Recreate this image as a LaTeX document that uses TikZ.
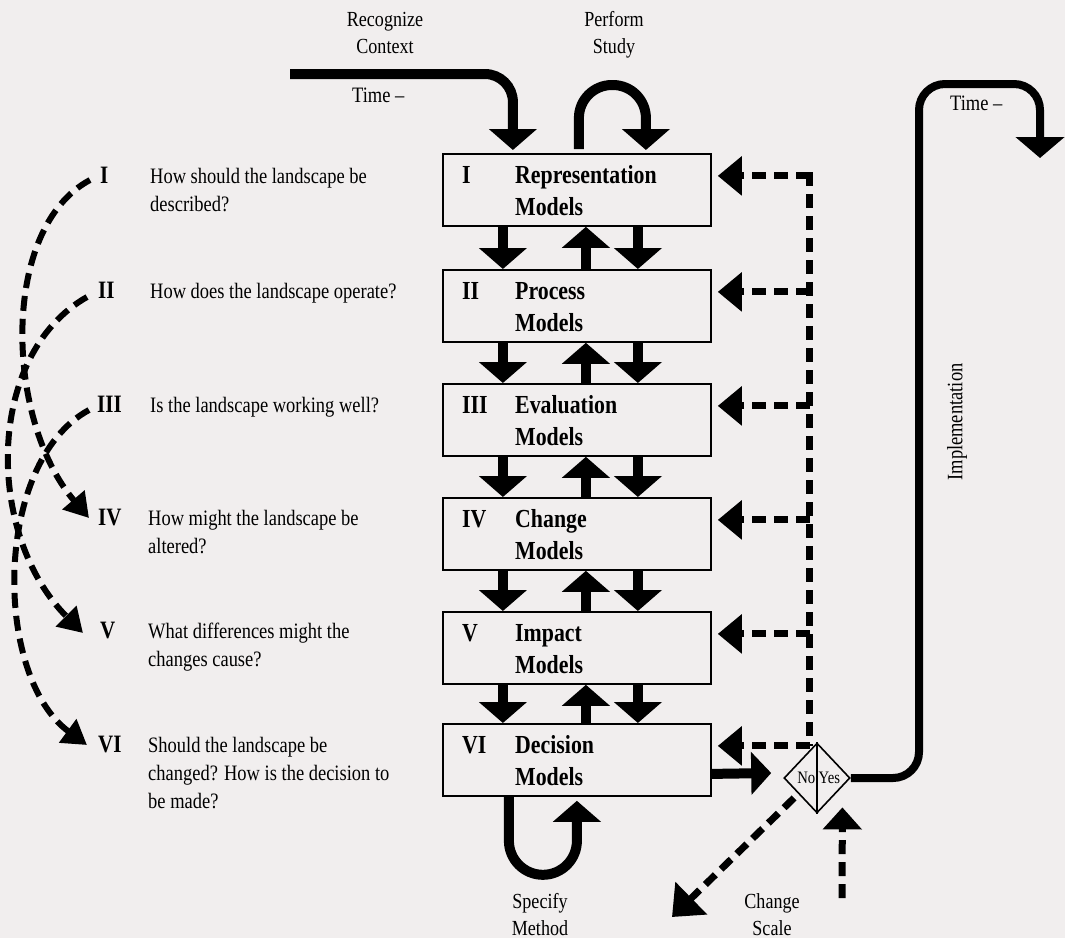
\documentclass[tikz,border=0pt]{standalone}
\usepackage{fontspec}
\setmainfont[FakeStretch=0.84]{Liberation Serif}
\usetikzlibrary{arrows.meta,shapes.geometric,calc}
\definecolor{bgc}{RGB}{241,238,238}
\newcommand{\qtext}[1]{\begin{tabular}[t]{@{}l@{}}#1\end{tabular}}
\newcommand{\ctext}[1]{\begin{tabular}[t]{@{}c@{}}#1\end{tabular}}
\begin{document}
\begin{tikzpicture}[x=1pt,y=-1pt,
  box/.style={draw, line width=1.8pt, minimum width=268pt, minimum height=72pt, inner sep=0pt, anchor=north west, fill=bgc},
  flow/.style={line width=10pt, -{Triangle[width=47pt,length=21pt]}},
  flowthin/.style={line width=8pt, -{Triangle[width=48pt,length=21pt]}},
  fbline/.style={line width=7pt, dash pattern=on 14pt off 8pt},
  fbarrow/.style={fbline, -{Triangle[width=38pt,length=24pt]}},
  curvearrow/.style={line width=6pt, dash pattern=on 15pt off 8pt, -{Triangle[width=28pt,length=24pt]}},
  qfont/.style={font=\fontsize{22}{28}\selectfont},
  lfont/.style={font=\fontsize{21.5}{27}\selectfont},
  numfont/.style={font=\fontsize{25}{28}\selectfont\bfseries},
  titlefont/.style={font=\fontsize{26}{32}\selectfont\bfseries},
  txt/.style={inner sep=0pt, anchor=base west},
]
\path[use as bounding box, fill=bgc] (0,0) rectangle (1065,938);

% ---- boxes ----
\foreach \n/\t/\ttl in {I/153/Representation, II/269/Process, III/383/Evaluation, IV/497/Change, V/611/Impact, VI/723/Decision} {
  \node[box] (b\n) at (442,\t) {};
  \node[titlefont, txt] (bn\n) at ($(b\n.north west)+(20,30)$) {\n};
  \node[titlefont, txt] (bt\n) at ($(b\n.north west)+(73,30)$) {\qtext{\ttl\\Models}};
}

% ---- arrows between boxes ----
\foreach \a/\b in {I/II, II/III, III/IV, IV/V, V/VI} {
  \draw[flow] ($(b\a.south)+(-74,0)$) -- ($(b\b.north)+(-74,0)$);
  \draw[flow] ($(b\b.north)+(9,0)$) -- ($(b\a.south)+(9,0)$);
  \draw[flow] ($(b\a.south)+(61,0)$) -- ($(b\b.north)+(61,0)$);
}

% ---- left questions ----
\node[numfont, txt] (nI) at (100,183) {I};
\node[qfont, txt] (qI) at (150,183) {\qtext{How should the landscape be\\described?}};
\node[numfont, txt] (nII) at (98,298) {II};
\node[qfont, txt] (qII) at (150,298) {How does the landscape operate?};
\node[numfont, txt] (nIII) at (97,412) {III};
\node[qfont, txt] (qIII) at (150,412) {Is the landscape working well?};
\node[numfont, txt] (nIV) at (98,525) {IV};
\node[qfont, txt] (qIV) at (148,525) {\qtext{How might the landscape be\\altered?}};
\node[numfont, txt] (nV) at (100,638) {V};
\node[qfont, txt] (qV) at (148,638) {\qtext{What differences might the\\changes cause?}};
\node[numfont, txt] (nVI) at (98,752) {VI};
\node[qfont, txt] (qVI) at (148,752) {\qtext{Should the landscape be\\changed? How is the decision to\\be made?}};

% ---- left dashed curves ----
\draw[curvearrow] ($(nI.base west)+(-10,-3)$) .. controls (0,228) and (5,420) .. ($(nIV.base west)+(-9,-7)$);
\draw[curvearrow] ($(nII.base west)+(-11,-1)$) .. controls (-15,355) and (-15,535) .. ($(nV.base west)+(-17,-5)$);
\draw[curvearrow] ($(nIII.base west)+(-8,-2)$) .. controls (-7,462) and (-7,676) .. ($(nVI.base west)+(-11,-7)$);

% ---- top ----
\node[lfont, inner sep=0pt, anchor=base] (rc) at (385,26) {\ctext{Recognize\\Context}};
\node[lfont, inner sep=0pt, anchor=base] (ps) at (614,26) {\ctext{Perform\\Study}};
\node[qfont, txt] (t1) at (352,102) {Time –};
\coordinate (ctx) at (290,74);
\draw[flow, rounded corners=28] (ctx) -| ($(bI.north)+(-64,-3)$);
\draw[flow, rounded corners=33] ($(bI.north)+(2,-4)$) |- ($(bI.north)+(69,-68)$) -- ($(bI.north)+(69,-3)$);

% ---- feedback dashed ----
\foreach \n in {I,II,III,IV,V,VI} {
  \coordinate (f\n) at ($(b\n.east)+(98,-14)$);
  \draw[fbarrow] (f\n) -- ($(b\n.east)+(6,-14)$);
}
\draw[fbline] ($(fI)+(0,-3.5)$) -- (fVI);

% ---- decision diamond ----
\node[diamond, draw, line width=1.6pt, minimum width=66pt, minimum height=70pt, inner sep=0pt, fill=bgc] (dia) at (817,778) {};
\draw[line width=1.2pt] (dia.north) -- (dia.south);
\node[font=\fontsize{17.5}{20}\selectfont, anchor=east, inner sep=0pt] (no) at (815.5,778) {No};
\node[font=\fontsize{17.5}{20}\selectfont, anchor=west, inner sep=0pt] (yes) at (818.5,778) {Yes};
\draw[line width=10pt, -{Triangle[width=42pt,length=20pt]}] ($(bVI.east)+(0,14)$) -- ($(dia.west)+(-12,-5)$);

\coordinate (cm) at (672,917);
\draw[fbline, -{Triangle[width=44pt,length=27pt]}] ($(dia.south west)+(-6,2)$) -- (cm);
\coordinate (cs) at (842,898);
\draw[fbline, -{Triangle[width=38pt,length=22pt]}] (cs) -- ($(dia.south east)+(8.5,11.5)$);

% ---- bottom loop ----
\draw[flow, rounded corners=34] ($(bVI.south)+(-68,0)$) |- ($(bVI.south)+(0,78)$) -- ($(bVI.south)+(0,4)$);
\node[lfont, inner sep=0pt, anchor=base] (sm) at (540,908) {\ctext{Specify\\Method}};
\node[lfont, inner sep=0pt, anchor=base] (csl) at (772,908) {\ctext{Change\\Scale}};

% ---- implementation ----
\coordinate (tout) at (1040,158);
\draw[flowthin, rounded corners=26] (dia.east) -- (919,778) -- (919,84) -- (1040,84) -- (tout);
\node[qfont, txt] (t2) at (950,110) {Time –};
\node[qfont, inner sep=0pt, rotate=90] (impl) at (957,422) {Implementation};
\end{tikzpicture}
\end{document}
